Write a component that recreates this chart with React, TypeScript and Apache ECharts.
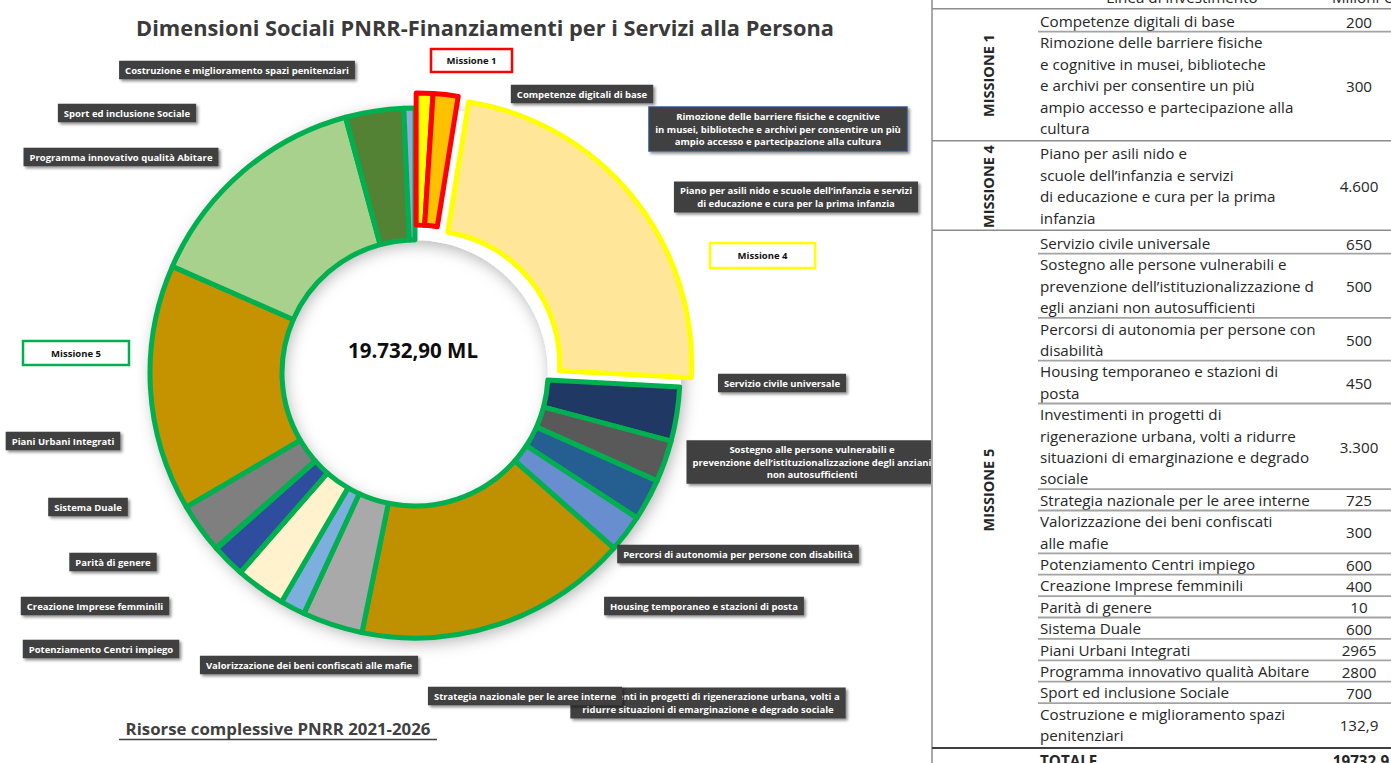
import React, { useEffect, useRef } from "react";
import * as echarts from "echarts";

// ---------- DATA ----------
const categories = [
  "Competenze digitali di base",
  "Rimozione delle barriere fisiche e cognitive in musei, biblioteche e archivi per consentire un più ampio accesso e partecipazione alla cultura",
  "Piano per asili nido e scuole dell’infanzia e servizi di educazione e cura per la prima infanzia",
  "Servizio civile universale",
  "Sostegno alle persone vulnerabili e prevenzione dell’istituzionalizzazione degli anziani non autosufficienti",
  "Percorsi di autonomia per persone con disabilità",
  "Housing temporaneo e stazioni di posta",
  "Investimenti in progetti di rigenerazione urbana, volti a ridurre situazioni di emarginazione e degrado sociale",
  "Strategia nazionale per le aree interne",
  "Valorizzazione dei beni confiscati alle mafie",
  "Potenziamento Centri impiego",
  "Creazione Imprese femminili",
  "Parità di genere",
  "Sistema Duale",
  "Piani Urbani Integrati",
  "Programma innovativo qualità Abitare",
  "Sport ed inclusione Sociale",
  "Costruzione e miglioramento spazi penitenziari",
];
const values = [200, 300, 4600, 650, 500, 500, 450, 3300, 725, 300, 600, 400, 10, 600, 2965, 2800, 700, 132.9];
const valueLabels = ["200", "300", "4.600", "650", "500", "500", "450", "3.300", "725", "300", "600", "400", "10", "600", "2965", "2800", "700", "132,9"];
const missionOf = [1, 1, 4, 5, 5, 5, 5, 5, 5, 5, 5, 5, 5, 5, 5, 5, 5, 5];
const missionNames = ["MISSIONE 1", "MISSIONE 4", "MISSIONE 5"];
const missionIds = [1, 4, 5];
const explodedMissions = [1, 4];
const missionBoxLabels = ["Missione 1", "Missione 4", "Missione 5"];
const totalText = "19732.9";
const totalHeader = "TOTALE";
const centerText = "19.732,90 ML";
const titleText = "Dimensioni Sociali PNRR-Finanziamenti per i Servizi alla Persona";
const footerText = "Risorse complessive PNRR 2021-2026";
const headerCols = ["Linea di investimento", "Milioni €"];

const pieLabels = [
  "Competenze digitali di base",
  "Rimozione delle barriere fisiche e cognitive\nin musei, biblioteche e archivi per consentire un più\nampio accesso e partecipazione alla cultura",
  "Piano per asili nido e scuole dell’infanzia e servizi\ndi educazione e cura per la prima infanzia",
  "Servizio civile universale",
  "Sostegno alle persone vulnerabili e\nprevenzione dell’istituzionalizzazione degli anziani\nnon autosufficienti",
  "Percorsi di autonomia per persone con disabilità",
  "Housing temporaneo e stazioni di posta",
  "Investimenti in progetti di rigenerazione urbana, volti a\nridurre situazioni di emarginazione e degrado sociale",
  "Strategia nazionale per le aree interne",
  "Valorizzazione dei beni confiscati alle mafie",
  "Potenziamento Centri impiego",
  "Creazione Imprese femminili",
  "Parità di genere",
  "Sistema Duale",
  "Piani Urbani Integrati",
  "Programma innovativo qualità Abitare",
  "Sport ed inclusione Sociale",
  "Costruzione e miglioramento spazi penitenziari",
];

const tableText = [
  "Competenze digitali di base",
  "Rimozione delle barriere fisiche\ne cognitive in musei, biblioteche\ne archivi per consentire un più\nampio accesso e partecipazione alla\ncultura",
  "Piano per asili nido e\nscuole dell’infanzia e servizi\ndi educazione e cura per la prima\ninfanzia",
  "Servizio civile universale",
  "Sostegno alle persone vulnerabili e\nprevenzione dell’istituzionalizzazione d\negli anziani non autosufficienti",
  "Percorsi di autonomia per persone con\ndisabilità",
  "Housing temporaneo e stazioni di\nposta",
  "Investimenti in progetti di\nrigenerazione urbana, volti a ridurre\nsituazioni di emarginazione e degrado\nsociale",
  "Strategia nazionale per le aree interne",
  "Valorizzazione dei beni confiscati\nalle mafie",
  "Potenziamento Centri impiego",
  "Creazione Imprese femminili",
  "Parità di genere",
  "Sistema Duale",
  "Piani Urbani Integrati",
  "Programma innovativo qualità Abitare",
  "Sport ed inclusione Sociale",
  "Costruzione e miglioramento spazi\npenitenziari",
];

// ---------- STYLE / LAYOUT ----------
const sliceColors = [
  "#FFFF00", "#FFC000", "#FFE699", "#203864", "#595959", "#255E91", "#698ED0", "#BF9000", "#A9A9A9",
  "#7CAFDD", "#FFF2CC", "#2F4D9E", "#636363", "#7F7F7F", "#C69300", "#A9D18E", "#548235", "#8FAADC",
];
const missionBorder: Record<number, string> = { 1: "#FF0000", 4: "#FFFF00", 5: "#00B050" };
const labelPos: [number, number][] = [
  [582, 94], [778, 129], [796, 197], [782, 383], [812, 462], [738, 554], [704, 606], [708, 703],
  [525, 696], [309, 665], [101, 649], [95, 606], [113, 562], [88, 507], [63, 441], [121, 157], [127, 113], [237, 70],
];
const missionBoxes = [
  { x: 431, y: 49, w: 81, h: 23 },
  { x: 710, y: 243, w: 105, h: 25 },
  { x: 23, y: 341, w: 106, h: 24 },
];
const CX = 415, CY = 373, R0 = 133, R1 = 265, EXPLODE = 15;
const FONT = "'Open Sans', Lato, sans-serif";
const TRANSPARENT = "rgba(0,0,0,0)";

function buildTable(): any[] {
  const els: any[] = [];
  const LH = 21.4;
  const tx = 1040, vx = 1359, left = 932, right = 1391, partial = 1038;
  const z = 100;
  const fs = 15.2;
  els.push({ type: "rect", z: 90, silent: true, shape: { x: 931, y: 0, width: 460, height: 763 }, style: { fill: "#ffffff" } });
  els.push({ type: "line", z, shape: { x1: left, y1: 0, x2: left, y2: 763 }, style: { stroke: "#8c8c8c", lineWidth: 1.5 } });
  els.push({ type: "text", z, style: { text: headerCols[0], x: 1182, y: -3, align: "center", verticalAlign: "middle", fontSize: fs, fontFamily: FONT, fill: "#262626" } });
  els.push({ type: "text", z, style: { text: headerCols[1], x: 1362, y: -3, align: "center", verticalAlign: "middle", fontSize: fs, fontFamily: FONT, fill: "#262626" } });
  let y = 10.3;
  els.push({ type: "line", z, shape: { x1: left, y1: y - 1.5, x2: right, y2: y - 1.5 }, style: { stroke: "#8c8c8c", lineWidth: 1.5 } });
  const missionStart: Record<number, number> = {};
  const missionEnd: Record<number, number> = {};
  tableText.forEach((t, i) => {
    const n = t.split("\n").length;
    const m = missionOf[i];
    if (missionStart[m] === undefined) missionStart[m] = y;
    const h = n * LH;
    els.push({ type: "text", z, style: { text: t, x: tx, y, align: "left", verticalAlign: "top", fontSize: fs, lineHeight: LH, fontFamily: FONT, fill: "#262626" } });
    els.push({ type: "text", z, style: { text: valueLabels[i], x: vx, y: y + h / 2 + 0.5, align: "center", verticalAlign: "middle", fontSize: fs, fontFamily: FONT, fill: "#262626" } });
    y += h;
    const next = missionOf[i + 1];
    if (next === m) {
      els.push({ type: "line", z, shape: { x1: partial, y1: y, x2: right, y2: y }, style: { stroke: "#a3a3a3", lineWidth: 1.8 } });
    } else {
      missionEnd[m] = y + 2;
      const last = next === undefined;
      els.push({ type: "line", z, shape: { x1: left, y1: y + 2, x2: right, y2: y + 2 }, style: { stroke: last ? "#404040" : "#8c8c8c", lineWidth: last ? 2 : 1.5 } });
      y += 4;
    }
  });
  missionIds.forEach((m, k) => {
    els.push({
      type: "text", z, x: 988, y: (missionStart[m] + missionEnd[m]) / 2, rotation: Math.PI / 2,
      style: { text: missionNames[k], x: 0, y: 0, align: "center", verticalAlign: "middle", fontSize: 14.5, fontWeight: "bold", fontFamily: FONT, fill: "#262626" },
    });
  });
  els.push({ type: "text", z, style: { text: totalHeader, x: tx, y: y + LH / 2, align: "left", verticalAlign: "middle", fontSize: fs, fontWeight: "bold", fontFamily: FONT, fill: "#262626" } });
  els.push({ type: "text", z, style: { text: totalText, x: 1361, y: y + LH / 2, align: "center", verticalAlign: "middle", fontSize: fs, fontWeight: "bold", fontFamily: FONT, fill: "#262626" } });
  return els;
}

function buildGraphics(): any[] {
  const els: any[] = [];
  els.push({
    type: "ring", z: 1, silent: true, shape: { cx: CX, cy: CY, r: R1 + 1, r0: R0 },
    style: { fill: "#ffffff", shadowBlur: 16, shadowColor: "rgba(0,0,0,0.3)", shadowOffsetX: 3, shadowOffsetY: 4 },
  });
  els.push({ type: "text", z: 5, style: { text: titleText, x: 485, y: 27, align: "center", verticalAlign: "middle", fontSize: 21.8, fontWeight: "bold", fontFamily: FONT, fill: "#3a3a3a" } });
  els.push({ type: "text", z: 5, style: { text: centerText, x: 413, y: 350, align: "center", verticalAlign: "middle", fontSize: 20.5, fontWeight: "bold", fontFamily: FONT, fill: "#0d0d0d" } });
  els.push({ type: "text", z: 5, style: { text: footerText, x: 278, y: 728, align: "center", verticalAlign: "middle", fontSize: 16.8, fontWeight: "bold", fontFamily: FONT, fill: "#404040" } });
  els.push({ type: "line", z: 5, shape: { x1: 119, y1: 739.5, x2: 437, y2: 739.5 }, style: { stroke: "#404040", lineWidth: 1.5 } });
  missionBoxes.forEach((b, k) => {
    els.push({ type: "rect", z: 5, shape: { x: b.x, y: b.y, width: b.w, height: b.h }, style: { fill: "#ffffff", stroke: missionBorder[missionIds[k]], lineWidth: 2.5 } });
    els.push({ type: "text", z: 6, style: { text: missionBoxLabels[k], x: b.x + b.w / 2, y: b.y + b.h / 2, align: "center", verticalAlign: "middle", fontSize: 9.5, fontWeight: "bold", fontFamily: FONT, fill: "#111" } });
  });
  return els.concat(buildTable());
}

// centre of an exploded mission: the doughnut centre moved outward along the mission's mid angle
function explodedCenter(m: number): [number, number] {
  const total = values.reduce((a, b) => a + b, 0);
  let start = 0, span = 0, found = false;
  values.forEach((v, i) => {
    if (missionOf[i] === m) { found = true; span += v; }
    else if (!found) start += v;
  });
  const mid = ((start + span / 2) / total) * Math.PI * 2;
  return [CX + EXPLODE * Math.sin(mid), CY - EXPLODE * Math.cos(mid)];
}

const baseLabel = {
  show: true,
  position: "outside",
  color: "#ffffff",
  fontFamily: FONT,
  fontWeight: "bold",
  fontSize: 9.5,
  lineHeight: 12.5,
  backgroundColor: "#404040",
  padding: [3, 6, 3, 6],
  shadowColor: "rgba(0,0,0,0.45)",
  shadowBlur: 3,
  shadowOffsetX: 2,
  shadowOffsetY: 2,
  formatter: (p: any) => pieLabels[p.dataIndex],
};

export default function App() {
  const ref = useRef<HTMLDivElement>(null);
  useEffect(() => {
    if (!ref.current) return;
    const chart = echarts.init(ref.current, undefined, { renderer: "svg" });
    const mainSeries = {
      type: "pie",
      z: 2,
      center: [CX, CY],
      radius: [R0, R1],
      startAngle: 90,
      clockwise: true,
      avoidLabelOverlap: false,
      silent: true,
      label: baseLabel,
      labelLine: { show: false },
      labelLayout: (p: any) => ({
        x: labelPos[p.dataIndex][0],
        y: labelPos[p.dataIndex][1],
        align: "center",
        verticalAlign: "middle",
      }),
      data: categories.map((c, i) => {
        const exploded = explodedMissions.indexOf(missionOf[i]) >= 0;
        return {
          name: c,
          value: values[i],
          itemStyle: exploded
            ? { color: TRANSPARENT, borderWidth: 0 }
            : { color: sliceColors[i], borderColor: missionBorder[missionOf[i]], borderWidth: 5 },
          label: i === 1 ? { borderColor: "#3A5FA0", borderWidth: 1 } : undefined,
        };
      }),
    };
    const explodedSeries = explodedMissions.map((m) => ({
      type: "pie",
      z: 3,
      center: explodedCenter(m),
      radius: [R0, R1],
      startAngle: 90,
      clockwise: true,
      silent: true,
      label: { show: false },
      labelLine: { show: false },
      data: categories.map((c, i) => ({
        name: c,
        value: values[i],
        itemStyle: missionOf[i] === m
          ? { color: sliceColors[i], borderColor: missionBorder[m], borderWidth: 5 }
          : { color: TRANSPARENT, borderWidth: 0 },
      })),
    }));
    const option: any = {
      animation: false,
      backgroundColor: "#ffffff",
      graphic: { elements: buildGraphics() },
      series: [mainSeries, ...explodedSeries],
    };
    chart.setOption(option);
    return () => chart.dispose();
  }, []);
  return <div ref={ref} style={{ position: "fixed", left: 0, top: 0, width: 1391, height: 763 }} />;
}
